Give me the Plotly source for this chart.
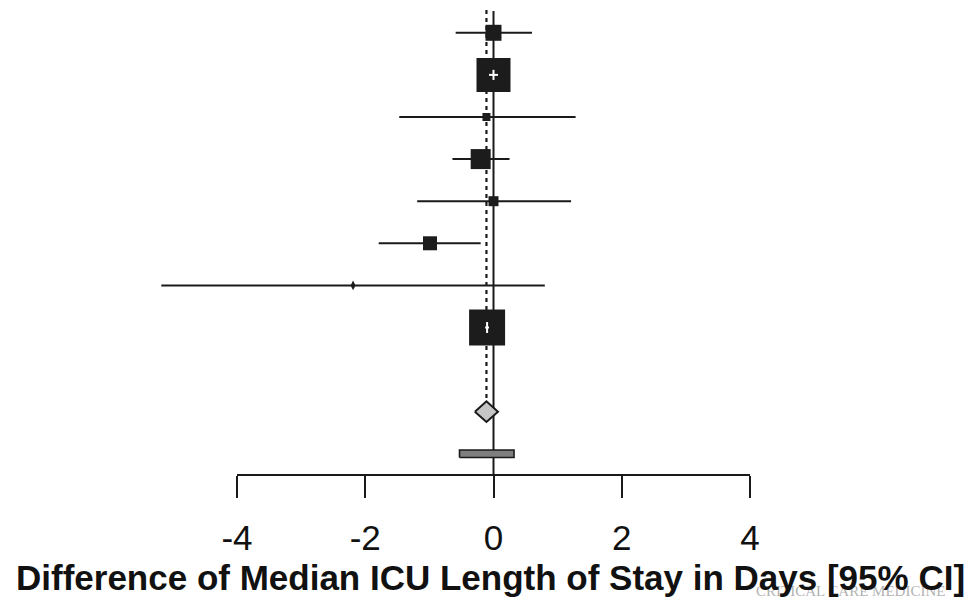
import plotly.graph_objects as go

# Study-level estimates: difference of median ICU length of stay (days) with 95% CI
est = [0.00, 0.00, -0.11, -0.20, 0.00, -0.99, -2.19, -0.10]
lower = [-0.59, -0.07, -1.47, -0.64, -1.19, -1.79, -5.18, -0.13]
upper = [0.60, 0.07, 1.28, 0.25, 1.21, -0.20, 0.80, -0.07]
# relative study weights (drive box size)
weight = [8, 17, 4, 10, 5, 7, 2, 18]

# pooled random-effects estimate and prediction interval
pooled_est, pooled_lo, pooled_hi = -0.11, -0.29, 0.07
pred_lo, pred_hi = -0.53, 0.32

tick_vals = [-4, -2, 0, 2, 4]
tick_text = ["-4", "-2", "0", "2", "4"]
x_title = "Difference of Median ICU Length of Stay in Days [95% CI]"

n = len(est)
rows = [n + 1 - i for i in range(n)]  # top study at row 9, last at row 2
pooled_row = 0
pred_row = -1

INK = "#1a1a1a"
fig = go.Figure()

# reference lines: solid at zero, dotted at the pooled estimate
fig.add_shape(type="line", x0=0, x1=0, y0=9.52, y1=-1.504, xref="x", yref="y",
              line=dict(color=INK, width=2), layer="below")
fig.add_shape(type="line", x0=pooled_est, x1=pooled_est, y0=9.54, y1=0.245,
              xref="x", yref="y", line=dict(color=INK, width=2.2, dash="4px,4px"),
              layer="below")

# confidence interval segments
ci_x, ci_y = [], []
for lo, hi, r in zip(lower, upper, rows):
    ci_x += [lo, hi, None]
    ci_y += [r, r, None]
fig.add_trace(go.Scatter(x=ci_x, y=ci_y, mode="lines",
                         line=dict(color=INK, width=2), hoverinfo="skip"))

# study boxes sized by weight
box_idx = [i for i in range(n) if weight[i] > 2]
fig.add_trace(go.Scatter(
    x=[est[i] for i in box_idx], y=[rows[i] for i in box_idx], mode="markers",
    marker=dict(symbol="square", size=[2 * weight[i] for i in box_idx],
                color="#1c1c1c", opacity=1, line=dict(width=0)),
    cliponaxis=False))
small_idx = [i for i in range(n) if weight[i] <= 2]
fig.add_trace(go.Scatter(
    x=[est[i] for i in small_idx], y=[rows[i] for i in small_idx], mode="markers",
    marker=dict(symbol="diamond-tall", size=7, color="#1c1c1c", opacity=1,
                line=dict(width=0)),
    cliponaxis=False))

# intervals narrower than their box are drawn in white inside it
wx, wy = [], []
for i in range(n):
    span = upper[i] - lower[i]
    if weight[i] > 2 and span * 64.1 < 2 * weight[i]:
        wx += [lower[i], upper[i], None, est[i], est[i], None]
        h = 0.12 if span > 0.1 else 0.13
        wy += [rows[i], rows[i], None, rows[i] - h, rows[i] + h, None]
fig.add_trace(go.Scatter(x=wx, y=wy, mode="lines",
                         line=dict(color="white", width=2), hoverinfo="skip"))

# pooled diamond
dh = 0.245
fig.add_trace(go.Scatter(
    x=[pooled_lo, pooled_est, pooled_hi, pooled_est, pooled_lo],
    y=[pooled_row, pooled_row + dh, pooled_row, pooled_row - dh, pooled_row],
    mode="lines", fill="toself", fillcolor="#c6c6c6",
    line=dict(color=INK, width=2), hoverinfo="skip"))

# prediction interval bar
bh = 0.09
fig.add_trace(go.Scatter(
    x=[pred_lo, pred_hi, pred_hi, pred_lo, pred_lo],
    y=[pred_row - bh, pred_row - bh, pred_row + bh, pred_row + bh, pred_row - bh],
    mode="lines", fill="toself", fillcolor="#7f7f7f",
    line=dict(color=INK, width=1.6), hoverinfo="skip"))

# x axis baseline spanning the tick range
fig.add_shape(type="line", x0=tick_vals[0], x1=tick_vals[-1], y0=0, y1=0,
              xref="x", yref="paper", line=dict(color=INK, width=2))

fig.add_annotation(text="CRITICAL CARE MEDICINE", x=850 / 976, y=(475 - 591) / 475,
                   xref="paper", yref="paper", xanchor="center", yanchor="middle",
                   showarrow=False,
                   font=dict(family="Liberation Serif", size=15,
                             color="rgba(110,110,110,0.55)"))
fig.add_annotation(text=x_title, x=491 / 976, y=(475 - 577) / 475,
                   xref="paper", yref="paper", showarrow=False,
                   xanchor="center", yanchor="middle",
                   font=dict(family="Liberation Sans, Arial", size=35, color="#111111",
                             weight="bold"))

fig.update_layout(
    width=976, height=600, showlegend=False,
    margin=dict(l=0, r=0, t=0, b=125, pad=0),
    paper_bgcolor="white", plot_bgcolor="white",
    xaxis=dict(range=[-4 - 237 / 64.125, 4 + 226 / 64.125], tickvals=tick_vals,
               ticktext=tick_text, ticks="outside", ticklen=22, tickwidth=2,
               tickcolor=INK, showline=False, showgrid=False, zeroline=False,
               ticklabelstandoff=10,
               tickfont=dict(family="Liberation Sans, Arial", size=35, color="#111111"),
               fixedrange=True),
    yaxis=dict(range=[-1.504, 9.779], visible=False, fixedrange=True),
)

fig.write_html("out.html")
